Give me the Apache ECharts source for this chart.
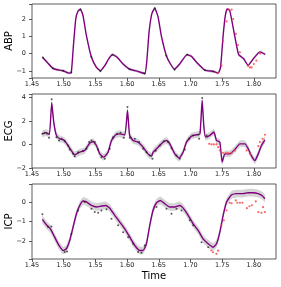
<!DOCTYPE html>
<html><head><meta charset="utf-8">
<script src="https://cdn.jsdelivr.net/npm/echarts@6/dist/echarts.min.js"></script>
<style>html,body{margin:0;padding:0;background:#fff}#c{width:281px;height:287px}</style>
</head><body><div id="c"></div>
<script>
// ---- data ----
const panelNames = ['ABP', 'ECG', 'ICP'];
const xTickMin = 1.45, xTickMax = 1.835, xTickStep = 0.05;

const abpMean = [[1.467,-0.22],[1.475,-0.55],[1.483,-0.85],[1.490,-0.93],[1.499,-0.99],[1.508,-1.13],[1.512,-1.09],[1.515,0.3],[1.519,2.0],[1.5225,2.45],[1.5264,2.56],[1.5305,2.2],[1.5358,1.05],[1.5437,-0.2],[1.5517,-0.8],[1.558,-0.99],[1.5648,-0.7],[1.571,-0.3],[1.577,-0.06],[1.584,-0.2],[1.5937,-0.6],[1.604,-0.9],[1.617,-1.03],[1.628,-1.15],[1.631,-0.5],[1.6347,1.24],[1.639,2.3],[1.6437,2.63],[1.649,2.11],[1.654,1.04],[1.662,-0.12],[1.6685,-0.6],[1.675,-0.9],[1.683,-0.6],[1.6947,-0.06],[1.7017,-0.16],[1.7096,-0.5],[1.7227,-0.95],[1.736,-1.03],[1.7437,-1.13],[1.7475,-0.8],[1.7516,1.05],[1.755,2.2],[1.758,2.59],[1.762,2.5],[1.77,1.0],[1.776,-0.05],[1.784,-0.3],[1.791,-0.68],[1.799,-0.31],[1.8095,0.1],[1.818,-0.04]];
const abpBand = 0.08;
const abpObs = [[1.467,-0.22],[1.483,-0.85],[1.499,-0.99],[1.512,-1.09],[1.5264,2.56],[1.5437,-0.2],[1.558,-1.02],[1.577,-0.06],[1.604,-0.9],[1.628,-1.15],[1.6437,2.63],[1.662,-0.12],[1.675,-0.93],[1.6947,-0.06],[1.7227,-0.95],[1.736,-1.03]];
const abpHeld = [[1.7437,-1.12],[1.749,-0.7],[1.7516,0.7],[1.757,1.86],[1.7606,2.55],[1.765,2.55],[1.7675,2.0],[1.7716,1.14],[1.775,0.5],[1.778,0.08],[1.791,-0.72],[1.794,-0.8],[1.7965,-0.8],[1.80,-0.6],[1.804,-0.4],[1.81,0.0]];

const ecgMean = [[1.4664,0.9],[1.4727,1.0],[1.4775,0.85],[1.4811,3.55],[1.4843,1.9],[1.4885,0.77],[1.4937,0.48],[1.499,0.4],[1.5032,0.2],[1.5095,-0.31],[1.5174,-0.88],[1.5253,-0.65],[1.5332,-0.51],[1.541,0.1],[1.5463,0.25],[1.5517,-0.09],[1.5569,-0.8],[1.5632,-1.08],[1.57,-0.66],[1.5754,0.34],[1.5822,0.82],[1.5885,0.9],[1.5965,0.8],[1.6007,2.9],[1.604,0.77],[1.6095,0.34],[1.6174,0.2],[1.6253,-0.23],[1.633,-0.8],[1.6385,-1.0],[1.641,-0.66],[1.649,-0.23],[1.657,0.2],[1.6623,0.34],[1.6674,0.05],[1.6753,-0.8],[1.6821,-1.17],[1.6884,-0.66],[1.6937,0.2],[1.7016,0.71],[1.7096,0.82],[1.715,0.9],[1.7185,3.75],[1.721,1.62],[1.7238,0.62],[1.7306,0.77],[1.737,1.05],[1.741,0.34],[1.7464,0.2],[1.75,-1.5],[1.7543,-0.8],[1.762,-0.8],[1.77,-0.43],[1.778,0.05],[1.786,0.05],[1.7912,-0.37],[1.7965,-1.0],[1.8017,-1.37],[1.807,-0.8],[1.812,-0.09],[1.8175,0.39]];
const ecgBand = 0.28;
const ecgObs = [[1.4664,0.91],[1.4701,0.99],[1.4737,0.91],[1.4769,0.57],[1.4811,3.83],[1.4885,0.62],[1.4927,0.34],[1.4964,0.48],[1.5016,0.26],[1.5069,-0.09],[1.5095,-0.43],[1.5148,-0.8],[1.5174,-1.0],[1.5227,-0.66],[1.5306,-0.54],[1.5359,-0.37],[1.5401,0.2],[1.5438,0.34],[1.549,0.2],[1.5543,-0.43],[1.5596,-1.08],[1.5648,-1.22],[1.5727,-0.37],[1.5779,0.62],[1.5843,0.91],[1.5896,0.99],[1.5948,0.57],[1.6006,3.18],[1.6043,0.57],[1.6122,0.48],[1.619,0.2],[1.6253,-0.37],[1.6306,-0.66],[1.6358,-0.94],[1.6401,-1.22],[1.6453,-0.54],[1.6516,-0.09],[1.658,0.26],[1.6648,0.2],[1.6701,-0.32],[1.678,-0.94],[1.6832,-1.22],[1.6911,-0.43],[1.6979,0.48],[1.7043,0.76],[1.7122,0.82],[1.7137,0.48],[1.7185,3.95],[1.7254,0.76]];
const ecgHeld = [[1.7295,0.05],[1.7332,0.0],[1.7369,0.0],[1.7411,0.0],[1.7438,-0.23],[1.7464,-0.51],[1.7517,-0.71],[1.756,-0.74],[1.7596,-0.74],[1.7649,-0.74],[1.7701,-0.51],[1.7886,-0.51],[1.7938,-0.8],[1.807,-0.14],[1.8096,0.2],[1.8138,0.48],[1.8175,0.82]];

const icpMean = [[1.4664,-0.88],[1.4727,-1.16],[1.479,-1.37],[1.4858,-1.8],[1.4926,-2.23],[1.499,-2.49],[1.5043,-2.4],[1.5095,-1.97],[1.5148,-1.28],[1.5201,-0.59],[1.5253,-0.16],[1.5306,0.07],[1.5359,0.02],[1.5438,-0.16],[1.5517,-0.24],[1.5596,-0.19],[1.5664,-0.16],[1.5727,-0.3],[1.5806,-0.67],[1.5885,-1.02],[1.5964,-1.37],[1.6043,-1.8],[1.6122,-2.23],[1.62,-2.49],[1.6253,-2.49],[1.6306,-2.14],[1.6358,-1.19],[1.641,-0.41],[1.6464,-0.02],[1.6527,0.1],[1.6595,-0.07],[1.6674,-0.24],[1.6753,-0.24],[1.6832,-0.16],[1.6885,-0.3],[1.6964,-0.67],[1.7043,-1.11],[1.7122,-1.45],[1.72,-1.89],[1.728,-2.14],[1.7358,-2.32],[1.7412,-2.14],[1.7464,-1.54],[1.7516,-0.67],[1.757,0.02],[1.765,0.39],[1.7727,0.45],[1.7832,0.45],[1.791,0.5],[1.799,0.5],[1.807,0.45],[1.8138,0.33],[1.8175,0.19]];
const icpBand = 0.2;
const icpObs = [[1.4664,-0.62],[1.4753,-1.28],[1.4806,-1.25],[1.5016,-2.57],[1.5053,-2.54],[1.5122,-1.62],[1.5227,-0.42],[1.5332,0.02],[1.5438,-0.33],[1.549,-0.5],[1.5543,-0.54],[1.5596,-0.42],[1.5675,-0.36],[1.5754,-0.85],[1.5859,-1.19],[1.5938,-1.54],[1.6017,-1.8],[1.6096,-2.14],[1.6175,-2.57],[1.6227,-2.61],[1.628,-2.23],[1.6464,-0.24],[1.6622,-0.33],[1.6701,-0.59],[1.678,-0.33],[1.6859,-0.42],[1.6991,-0.93],[1.7043,-1.19],[1.7175,-2.06],[1.728,-2.32]];
const icpHeld = [[1.733,-2.49],[1.7356,-2.58],[1.741,-2.66],[1.7437,-2.5],[1.749,-1.19],[1.7527,-0.93],[1.757,-0.41],[1.762,-0.02],[1.765,-0.05],[1.7716,0.1],[1.774,-0.02],[1.778,-0.02],[1.782,-0.02],[1.789,-0.3],[1.793,-0.2],[1.797,-0.15],[1.803,0.05],[1.807,-0.5],[1.812,-0.54],[1.8145,-0.25],[1.8175,-0.5]];

const yRanges = [[-1.41, 2.87], [-2.0, 4.28], [-2.93, 0.95]];
const ySplit = [5, 3, 4];

// ---- chart ----
const panels = [
  {mean: abpMean, band: abpBand, obs: abpObs, held: abpHeld},
  {mean: ecgMean, band: ecgBand, obs: ecgObs, held: ecgHeld},
  {mean: icpMean, band: icpBand, obs: icpObs, held: icpHeld}
];
const grids = [
  {left: 32, top: 4, width: 244, height: 74},
  {left: 32, top: 94, width: 244, height: 74},
  {left: 32, top: 184, width: 244, height: 75}
];
const FONT = 'DejaVu Sans';
const fmtX = v => (v > 1.83 ? '' : v.toFixed(2));
const fmtY = v => (Math.abs(v - Math.round(v)) > 1e-6 ? '' : String(Math.round(v)).replace('-', '\u2212'));

const option = {
  animation: false,
  grid: grids.map(g => Object.assign({show: true, borderColor: '#333', borderWidth: 0.8, backgroundColor: 'transparent', containLabel: false, outerBoundsMode: 'none'}, g)),
  xAxis: grids.map((g, i) => ({
    type: 'value', gridIndex: i, min: xTickMin, max: xTickMax, interval: xTickStep, position: 'bottom',
    axisLine: {show: false, onZero: false}, splitLine: {show: false}, minorTick: {show: false},
    axisTick: {show: true, length: 3, lineStyle: {color: '#333', width: 0.8}},
    axisLabel: {fontSize: 6.5, color: '#222', margin: 3, fontFamily: FONT, formatter: fmtX, showMaxLabel: false},
    name: i === 2 ? 'Time' : '', nameLocation: 'middle', nameGap: 12, nameMoveOverlap: false,
    nameTextStyle: {fontSize: 10, color: '#000', fontFamily: FONT}
  })),
  yAxis: grids.map((g, i) => ({
    type: 'value', gridIndex: i, min: yRanges[i][0], max: yRanges[i][1], splitNumber: ySplit[i], position: 'left',
    axisLine: {show: false, onZero: false}, splitLine: {show: false}, minorTick: {show: false},
    axisTick: {show: true, length: 3, lineStyle: {color: '#333', width: 0.8}},
    axisLabel: {fontSize: 6.5, color: '#222', margin: 6, fontFamily: FONT, formatter: fmtY},
    name: panelNames[i], nameLocation: 'middle', nameGap: 18, nameRotate: 90, nameMoveOverlap: false,
    nameTextStyle: {fontSize: 10, color: '#000', fontFamily: FONT}
  })),
  series: []
};

panels.forEach((p, i) => {
  option.series.push({
    type: 'custom', xAxisIndex: i, yAxisIndex: i, data: p.mean, silent: true, z: 1,
    encode: {x: 0, y: 1},
    renderItem: (params, api) => {
      if (params.dataIndex !== 0) return null;
      const up = p.mean.map(d => api.coord([d[0], d[1] + p.band]));
      const dn = p.mean.slice().reverse().map(d => api.coord([d[0], d[1] - p.band]));
      return {type: 'polygon', shape: {points: up.concat(dn), smooth: 0.15},
              style: {fill: '#b0b0b0', opacity: 0.55}, silent: true};
    }
  });
  option.series.push({
    type: 'line', xAxisIndex: i, yAxisIndex: i, data: p.mean, smooth: 0.15,
    symbol: 'none', lineStyle: {color: '#800080', width: 1.4}, z: 3
  });
  option.series.push({
    type: 'scatter', xAxisIndex: i, yAxisIndex: i, data: p.obs, symbolSize: 2,
    itemStyle: {color: '#222', opacity: 0.75}, z: 4
  });
  option.series.push({
    type: 'scatter', xAxisIndex: i, yAxisIndex: i, data: p.held, symbolSize: 2.2,
    itemStyle: {color: '#ff4040', opacity: 0.8}, z: 4
  });
});

const chart = echarts.init(document.getElementById('c'), null, {renderer: 'canvas'});
chart.setOption(option);
</script></body></html>
